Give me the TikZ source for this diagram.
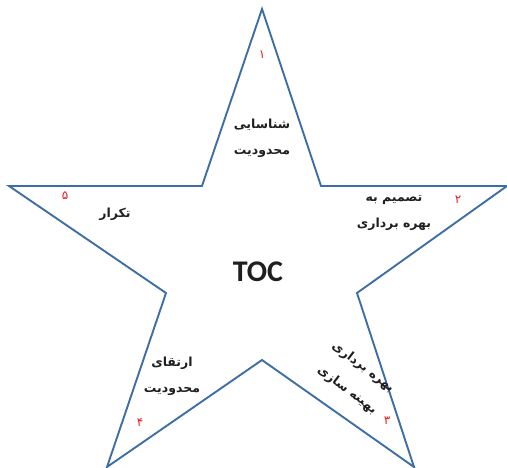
\documentclass[tikz,border=0pt]{standalone}
\usepackage{fontspec}
\setmainfont{Carlito}
\newfontfamily\arabicfont[Script=Arabic]{DejaVu Sans}
\TeXXeTstate=1
\definecolor{starblue}{RGB}{62,110,165}
\definecolor{numred}{RGB}{230,30,30}
\tikzset{
  starline/.style={draw=starblue, line width=1.9pt, line join=miter},
  fa/.style={font=\arabicfont\bfseries\fontsize{12.5}{26}\selectfont, align=center, text=black!88},
  farot/.style={font=\arabicfont\bfseries\fontsize{12.5}{14}\selectfont, text=black!88, inner sep=0pt, rotate=-37},
  num/.style={font=\arabicfont\fontsize{12}{13}\selectfont, text=numred},
}
\begin{document}
\begin{tikzpicture}[x=1pt,y=-1pt]
\useasboundingbox (0,0) rectangle (507,468);
\coordinate (t) at (262,9);
\coordinate (tr) at (321,186);
\coordinate (r) at (507,186);
\coordinate (ri) at (357,293);
\coordinate (br) at (414,467);
\coordinate (bi) at (262,360);
\coordinate (bl) at (107,467);
\coordinate (li) at (166,293);
\coordinate (l) at (9,186);
\coordinate (tl) at (202,186);
\draw[starline] (t) -- (tr) -- (r) -- (ri) -- (br) -- (bi) -- (bl) -- (li) -- (l) -- (tl) -- cycle;

\node[font=\bfseries\fontsize{30}{32}\selectfont, text=black!88] (toc) at (258,272) {TOC};

\node[num] (n1) at (262,55) {\beginR ۱\endR};
\node[fa] (s1) at (262,138) {\beginR شناسایی\endR\\\beginR محدودیت\endR};

\node[num] (n2) at (458,200) {\beginR ۲\endR};
\node[fa] (s2) at (394,213) {\beginR تصمیم به\endR\\\beginR بهره برداری\endR};

\node[num] (n3) at (387,421) {\beginR ۳\endR};
\node[farot] (s3a) at (363,367) {\beginR بهره برداری\endR};
\node[farot] (s3b) at (347,390) {\beginR بهینه سازی\endR};

\node[num] (n4) at (140,423) {\beginR ۴\endR};
\node[fa] (s4) at (172,376) {\beginR ارتقای\endR\\\beginR محدودیت\endR};

\node[num] (n5) at (65,196) {\beginR ۵\endR};
\node[fa] (s5) at (115,214) {\beginR تکرار\endR};
\end{tikzpicture}
\end{document}
